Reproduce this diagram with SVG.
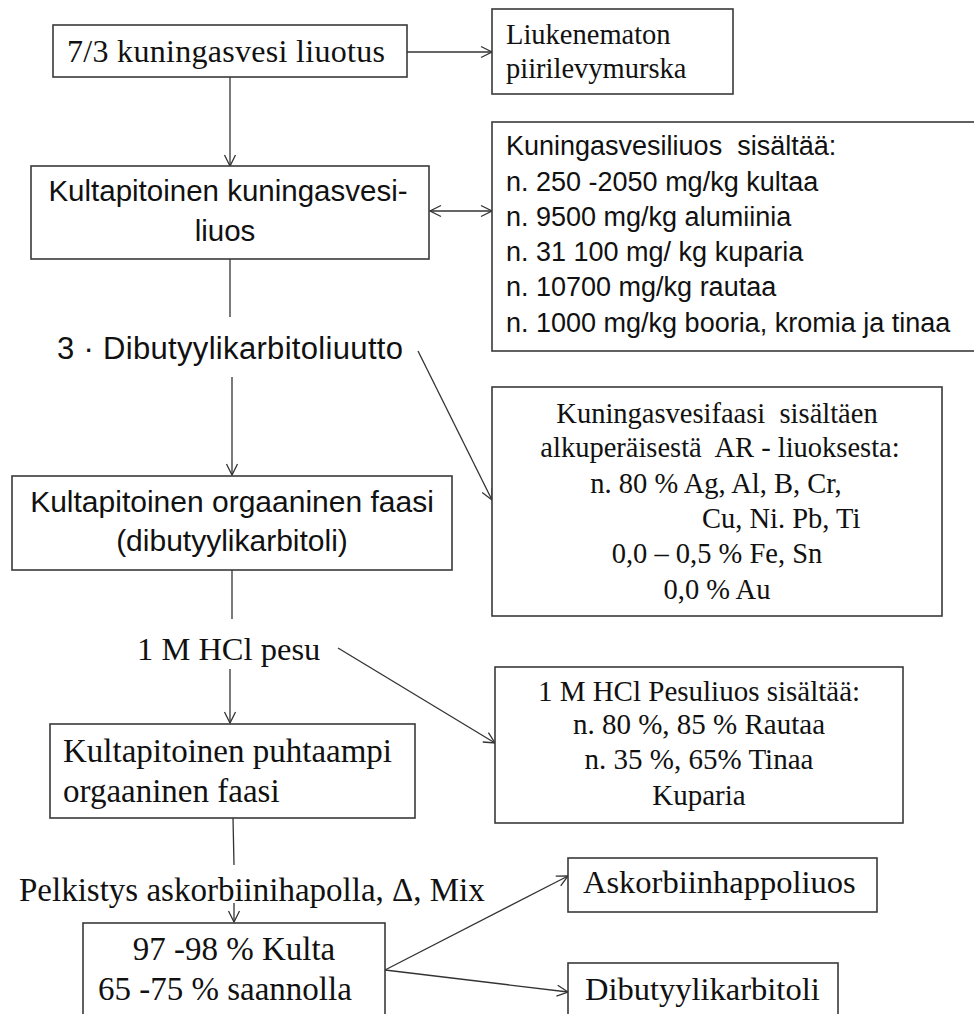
<svg xmlns="http://www.w3.org/2000/svg" width="974" height="1014" viewBox="0 0 974 1014">
<style>
.box{fill:#fff;stroke:#3a3a3a;stroke-width:1.6}
.serif{font-family:"Liberation Serif","Times New Roman",serif;fill:#111}
.sans{font-family:"Liberation Sans",Arial,sans-serif;fill:#111}
.c{stroke:#333;stroke-width:1.3;fill:none}
.a{marker-end:url(#ah)}
</style>
<defs>
<marker id="ah" markerUnits="userSpaceOnUse" markerWidth="14" markerHeight="14" viewBox="0 0 14 14" refX="12" refY="7" orient="auto">
<path d="M1,1.5 L12,7 L1,12.5" fill="none" stroke="#333" stroke-width="1.3"/>
</marker>
<marker id="as" markerUnits="userSpaceOnUse" markerWidth="14" markerHeight="14" viewBox="0 0 14 14" refX="2" refY="7" orient="auto">
<path d="M13,1.5 L2,7 L13,12.5" fill="none" stroke="#333" stroke-width="1.3"/>
</marker>
</defs>
<rect width="974" height="1014" fill="#fff"/>

<g id="connectors">
<line class="c a" x1="407" y1="52" x2="492" y2="52"/>
<line class="c a" x1="230" y1="77" x2="230" y2="166"/>
<line class="c a" x1="430" y1="211" x2="492" y2="211" marker-start="url(#as)"/>
<line class="c" x1="230" y1="259" x2="230" y2="317"/>
<line class="c a" x1="232" y1="377" x2="232" y2="475"/>
<line class="c a" x1="418" y1="351" x2="492" y2="500"/>
<line class="c" x1="232" y1="570" x2="232" y2="619"/>
<line class="c a" x1="230" y1="669" x2="230" y2="723"/>
<line class="c a" x1="338" y1="648" x2="495" y2="743"/>
<line class="c" x1="233" y1="818" x2="234" y2="865"/>
<line class="c a" x1="234" y1="903" x2="234" y2="922"/>
<line class="c a" x1="385" y1="970" x2="568" y2="876"/>
<line class="c a" x1="385" y1="970" x2="568" y2="992"/>
</g>

<g id="n1">
<rect class="box" x="53" y="25" width="354" height="52"/>
<text class="serif" x="67" y="62" font-size="32" textLength="318">7/3 kuningasvesi liuotus</text>
</g>

<g id="n2">
<rect class="box" x="492" y="9" width="241" height="85"/>
<text class="serif" x="506" y="44" font-size="28.5">Liukenematon</text>
<text class="serif" x="506" y="78" font-size="28.5">piirilevymurska</text>
</g>

<g id="n3">
<rect class="box" x="31" y="166" width="398" height="93"/>
<text class="sans" x="228" y="201" font-size="29.5" text-anchor="middle">Kultapitoinen kuningasvesi-</text>
<text class="sans" x="225" y="241" font-size="29.5" text-anchor="middle">liuos</text>
</g>

<g id="n4">
<rect class="box" x="492" y="122" width="490" height="229"/>
<text class="sans" font-size="27" x="506" y="155" xml:space="preserve">Kuningasvesiliuos  sisältää:</text>
<text class="sans" font-size="27" x="506" y="191">n. 250 -2050 mg/kg kultaa</text>
<text class="sans" font-size="27" x="506" y="226">n. 9500 mg/kg alumiinia</text>
<text class="sans" font-size="27" x="506" y="261">n. 31 100 mg/ kg kuparia</text>
<text class="sans" font-size="27" x="506" y="296">n. 10700 mg/kg rautaa</text>
<text class="sans" font-size="27" x="506" y="332">n. 1000 mg/kg booria, kromia ja tinaa</text>
</g>

<g id="n5">
<text class="sans" x="57" y="359" font-size="31" textLength="346">3 · Dibutyylikarbitoliuutto</text>
</g>

<g id="n6">
<rect class="box" x="12" y="476" width="440" height="94"/>
<text class="sans" x="232" y="512" font-size="30" text-anchor="middle">Kultapitoinen orgaaninen faasi</text>
<text class="sans" x="232" y="551" font-size="30" text-anchor="middle">(dibutyylikarbitoli)</text>
</g>

<g id="n7">
<rect class="box" x="492" y="387" width="450" height="229"/>
<text class="serif" font-size="28.5" text-anchor="middle" x="717" y="423" xml:space="preserve">Kuningasvesifaasi  sisältäen</text>
<text class="serif" font-size="28.5" text-anchor="middle" x="720" y="457" xml:space="preserve">alkuperäisestä  AR - liuoksesta:</text>
<text class="serif" font-size="28.5" text-anchor="middle" x="716" y="493">n. 80 % Ag, Al, B, Cr,</text>
<text class="serif" font-size="28.5" x="702" y="528">Cu, Ni. Pb, Ti</text>
<text class="serif" font-size="28.5" text-anchor="middle" x="717" y="563">0,0 – 0,5 % Fe, Sn</text>
<text class="serif" font-size="28.5" text-anchor="middle" x="717" y="599">0,0 % Au</text>
</g>

<g id="n8">
<text class="serif" x="137" y="660" font-size="32.5">1 M HCl pesu</text>
</g>

<g id="n9">
<rect class="box" x="50" y="724" width="365" height="94"/>
<text class="serif" x="63" y="762" font-size="33">Kultapitoinen puhtaampi</text>
<text class="serif" x="63" y="802" font-size="33">orgaaninen faasi</text>
</g>

<g id="n10">
<rect class="box" x="495" y="667" width="408" height="156"/>
<text class="serif" font-size="29" text-anchor="middle" x="699" y="701">1 M HCl Pesuliuos sisältää:</text>
<text class="serif" font-size="29" text-anchor="middle" x="699" y="734">n. 80 %, 85 % Rautaa</text>
<text class="serif" font-size="29" text-anchor="middle" x="699" y="769">n. 35 %, 65% Tinaa</text>
<text class="serif" font-size="29" text-anchor="middle" x="699" y="805">Kuparia</text>
</g>

<g id="n11">
<text class="serif" x="19" y="901" font-size="33">Pelkistys askorbiinihapolla, Δ, Mix</text>
</g>

<g id="n12">
<rect class="box" x="83" y="923" width="302" height="110"/>
<text class="serif" x="234" y="960" font-size="33" text-anchor="middle">97 -98 % Kulta</text>
<text class="serif" x="98" y="1000" font-size="33">65 -75 % saannolla</text>
</g>

<g id="n13">
<rect class="box" x="568" y="858" width="309" height="54"/>
<text class="serif" x="583" y="893" font-size="32.5">Askorbiinhappoliuos</text>
</g>

<g id="n14">
<rect class="box" x="568" y="963" width="270" height="70"/>
<text class="serif" x="585" y="1000" font-size="32.5">Dibutyylikarbitoli</text>
</g>
</svg>
